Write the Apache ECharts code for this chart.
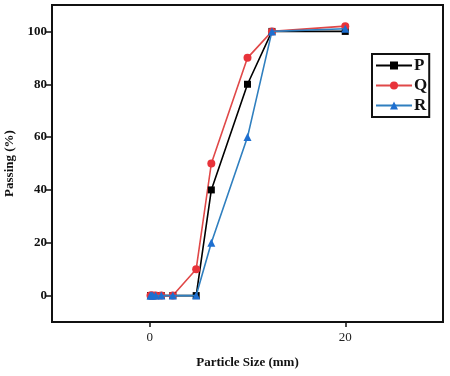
<!DOCTYPE html>
<html>
<head>
<meta charset="utf-8">
<script src="https://cdn.jsdelivr.net/npm/echarts@6/dist/echarts.min.js"></script>
<style>
  html, body { margin: 0; padding: 0; background: #fff; }
  #chart { width: 450px; height: 376px; }
</style>
</head>
<body>
<div id="chart"></div>
<script>
// sieve sizes (mm)
const sizes = [0.075, 0.15, 0.3, 0.6, 1.18, 2.36, 4.75, 6.3, 10, 12.5, 20]
const passP = [0, 0, 0, 0, 0, 0, 0, 40, 80, 100, 100]
const passQ = [0, 0, 0, 0, 0, 0, 10, 50, 90, 100, 102]
const passR = [0, 0, 0, 0, 0, 0, 0, 20, 60, 100, 101]
const xTicks = [0, 20]
const yTicks = [0, 20, 40, 60, 80, 100]

const font = 'Liberation Serif'

function pairs(ys) {
    return sizes.map((x, i) => [x, ys[i]])
}

function makeSeries(name, ys, lineColor, markColor, symbol, size) {
    return {
        name: name,
        type: 'line',
        data: pairs(ys),
        symbol: symbol,
        symbolSize: size,
        lineStyle: { color: lineColor, width: 1.6 },
        itemStyle: { color: markColor },
        emphasis: { disabled: true },
        z: name === 'R' ? 4 : 3
    }
}

const chart = echarts.init(document.getElementById('chart'))
const option = {
    animation: false,
    grid: {
        left: 52, right: 7, top: 5, bottom: 54,
        outerBoundsMode: 'none',
        containLabel: false,
        show: true,
        borderColor: '#111',
        borderWidth: 2
    },
    legend: {
        orient: 'vertical',
        left: 372,
        top: 54,
        borderColor: '#111',
        borderWidth: 2,
        padding: [3, 2, 3, 3],
        itemWidth: 36,
        itemHeight: 10,
        itemGap: 3,
        textStyle: { fontFamily: font, fontSize: 17, fontWeight: 'bold', color: '#111', padding: [0, 0, 0, -3] },
        data: ['P', 'Q', 'R']
    },
    xAxis: {
        type: 'value',
        min: -10,
        max: 30,
        name: 'Particle Size (mm)',
        nameLocation: 'middle',
        nameGap: 34,
        nameTextStyle: { fontFamily: font, fontSize: 13, fontWeight: 'bold', color: '#111' },
        splitLine: { show: false },
        axisLine: { onZero: false, lineStyle: { color: '#111', width: 2 } },
        axisTick: { customValues: xTicks, length: 5, lineStyle: { color: '#111', width: 1.5 } },
        axisLabel: { customValues: xTicks, fontFamily: font, fontSize: 13, color: '#222', margin: 9 }
    },
    yAxis: {
        type: 'value',
        min: -10,
        max: 110,
        name: 'Passing (%)',
        nameLocation: 'middle',
        nameGap: 33,
        nameTextStyle: { fontFamily: font, fontSize: 13, fontWeight: 'bold', color: '#111' },
        splitLine: { show: false },
        axisLine: { onZero: false, lineStyle: { color: '#111', width: 2 } },
        axisTick: { customValues: yTicks, length: 6, lineStyle: { color: '#111', width: 1.5 } },
        axisLabel: { customValues: yTicks, fontFamily: font, fontSize: 13, fontWeight: 'bold', color: '#111', margin: 5 }
    },
    series: [
        makeSeries('P', passP, '#000', '#000', 'rect', 7),
        makeSeries('Q', passQ, '#e04848', '#e8333a', 'circle', 8),
        makeSeries('R', passR, '#2f7fbf', '#1e6fd0', 'triangle', 8)
    ]
}
chart.setOption(option)
</script>
</body>
</html>
